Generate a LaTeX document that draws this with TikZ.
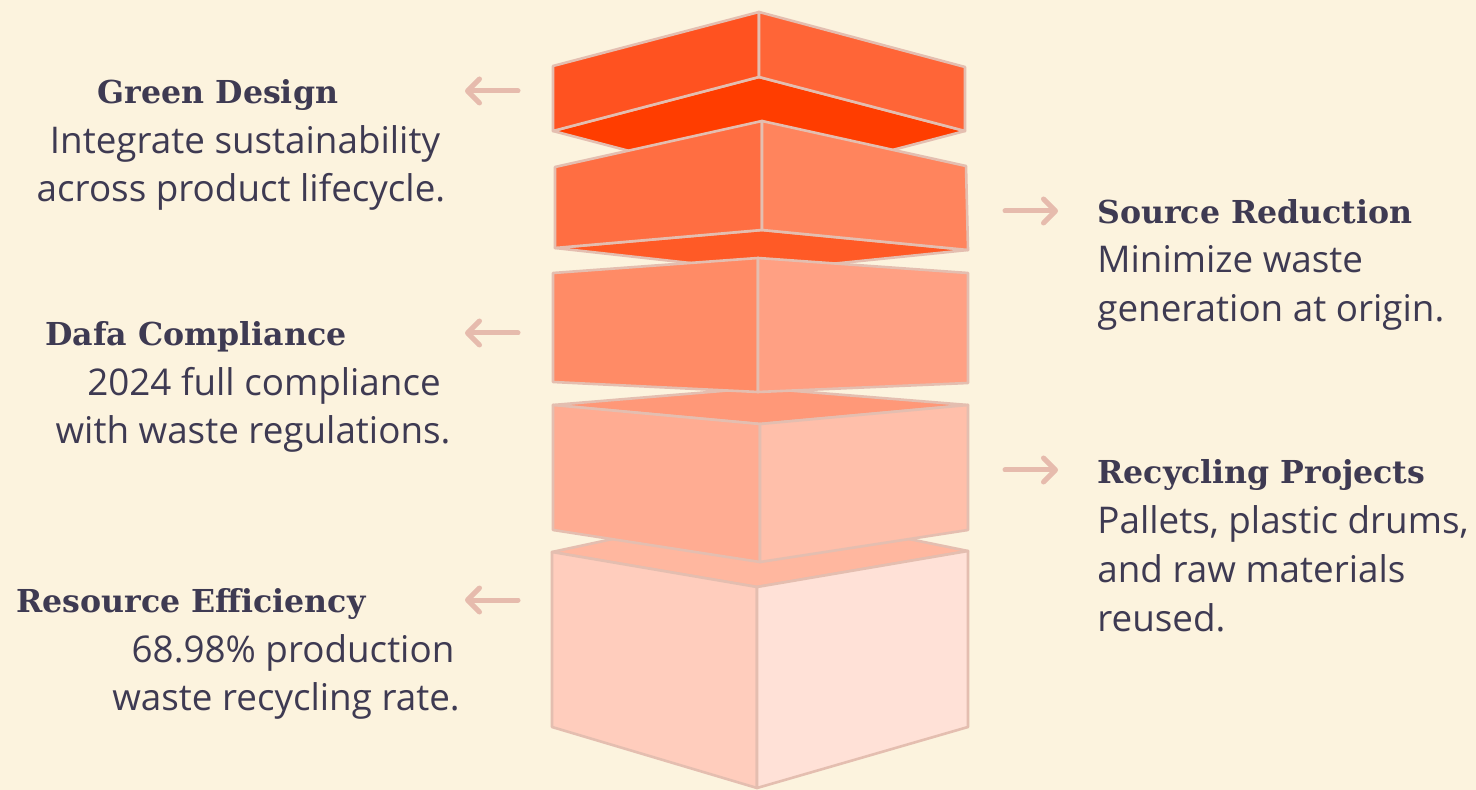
\documentclass[tikz,border=0pt]{standalone}
\usepackage{fontspec}
\setmainfont{Open Sans}
\newfontfamily\titlefont{DejaVu Serif}
\usetikzlibrary{arrows.meta}
\definecolor{bg}{HTML}{FCF3DE}
\definecolor{edge}{HTML}{E4BEB0}
\definecolor{ink}{HTML}{3E3A52}
\definecolor{arrowc}{HTML}{E6BBAD}
\definecolor{aL}{HTML}{FF5220}
\definecolor{aR}{HTML}{FF6537}
\definecolor{aB}{HTML}{FF3D00}
\definecolor{bL}{HTML}{FF6E42}
\definecolor{bR}{HTML}{FF845D}
\definecolor{bB}{HTML}{FF5A26}
\definecolor{cL}{HTML}{FF8B66}
\definecolor{cR}{HTML}{FFA083}
\definecolor{dT}{HTML}{FF9878}
\definecolor{dL}{HTML}{FFAC92}
\definecolor{dR}{HTML}{FFBFAA}
\definecolor{eT}{HTML}{FFB79F}
\definecolor{eL}{HTML}{FFCDBD}
\definecolor{eR}{HTML}{FFE1D7}
\tikzset{
  face/.style={fill=#1, draw=edge, line width=1.3pt, line join=round},
  ttl/.style={font=\titlefont\bfseries\fontsize{15.8pt}{18pt}\selectfont, text=ink, inner sep=0pt},
  body/.style={font=\fontsize{18.4pt}{22pt}\selectfont, text=ink, inner sep=0pt},
  pointer/.style={draw=arrowc, line width=2.5pt, line cap=round,
    -{Straight Barb[length=6pt,width=12pt,line cap=round,line join=round]}}
}
\begin{document}
\begin{tikzpicture}[x=0.5pt,y=-0.5pt]
\fill[bg] (0,0) rectangle (1476,790);
\useasboundingbox (0,0) rectangle (1476,790);

% box 5 (bottom)
\path[face=eT] (552,552)--(757,508)--(968,551)--(757,587)--cycle;
\path[face=eL] (552,552)--(757,587)--(757,788)--(552,727)--cycle;
\path[face=eR] (757,587)--(968,551)--(968,727)--(757,788)--cycle;
% box 4
\path[face=dT] (553,405)--(758,388)--(968,405)--(760,424)--cycle;
\path[face=dL] (553,405)--(760,424)--(760,562)--(553,530)--cycle;
\path[face=dR] (760,424)--(968,405)--(968,530)--(760,562)--cycle;
% box 1 (top)
\path[face=aB] (553,131)--(759,77)--(965,131)--(759,185)--cycle;
\path[face=aL] (553,66)--(759,12)--(759,77)--(553,131)--cycle;
\path[face=aR] (759,12)--(965,67)--(965,131)--(759,77)--cycle;
% box 2
\path[face=bB] (555,248)--(762,230)--(968,250)--(762,271)--cycle;
\path[face=bL] (555,167)--(762,121)--(762,230)--(555,248)--cycle;
\path[face=bR] (762,121)--(966,166)--(968,250)--(762,230)--cycle;
% box 3
\path[face=cL] (553,273)--(758,258)--(758,392)--(553,382)--cycle;
\path[face=cR] (758,258)--(968,273)--(968,383)--(758,392)--cycle;

% left labels
\node[ttl, anchor=base] (gdT) at (218,104) {Green Design};
\node[body, anchor=base] (gd1) at (245,154) {Integrate sustainability};
\node[body, anchor=base] (gd2) at (241,202) {across product lifecycle.};

\node[ttl, anchor=base] (dcT) at (196,346) {Dafa Compliance};
\node[body, anchor=base] (dc1) at (264,396) {2024 full compliance};
\node[body, anchor=base] (dc2) at (253,444) {with waste regulations.};

\node[ttl, anchor=base] (reT) at (191,612) {Resource Efficiency};
\node[body, anchor=base] (re1) at (293,662) {68.98\% production};
\node[body, anchor=base] (re2) at (286,710) {waste recycling rate.};

% right labels
\node[ttl, anchor=base west] (srT) at (1097,224) {Source Reduction};
\node[body, anchor=base west] (sr1) at (1097,273) {Minimize waste};
\node[body, anchor=base west] (sr2) at (1097,322) {generation at origin.};

\node[ttl, anchor=base west] (rpT) at (1097,483) {Recycling Projects};
\node[body, anchor=base west] (rp1) at (1097,533) {Pallets, plastic drums,};
\node[body, anchor=base west] (rp2) at (1097,582) {and raw materials};
\node[body, anchor=base west] (rp3) at (1097,631) {reused.};

% arrows
\coordinate (g0) at (518,91);  \coordinate (g1) at (465,91);
\coordinate (d0) at (518,333); \coordinate (d1) at (465,333);
\coordinate (r0) at (518,600); \coordinate (r1) at (465,600);
\coordinate (s0) at (1005,211); \coordinate (s1) at (1058,211);
\coordinate (p0) at (1005,470); \coordinate (p1) at (1058,470);
\draw[pointer] (g0) -- (g1);
\draw[pointer] (d0) -- (d1);
\draw[pointer] (r0) -- (r1);
\draw[pointer] (s0) -- (s1);
\draw[pointer] (p0) -- (p1);
\end{tikzpicture}
\end{document}
